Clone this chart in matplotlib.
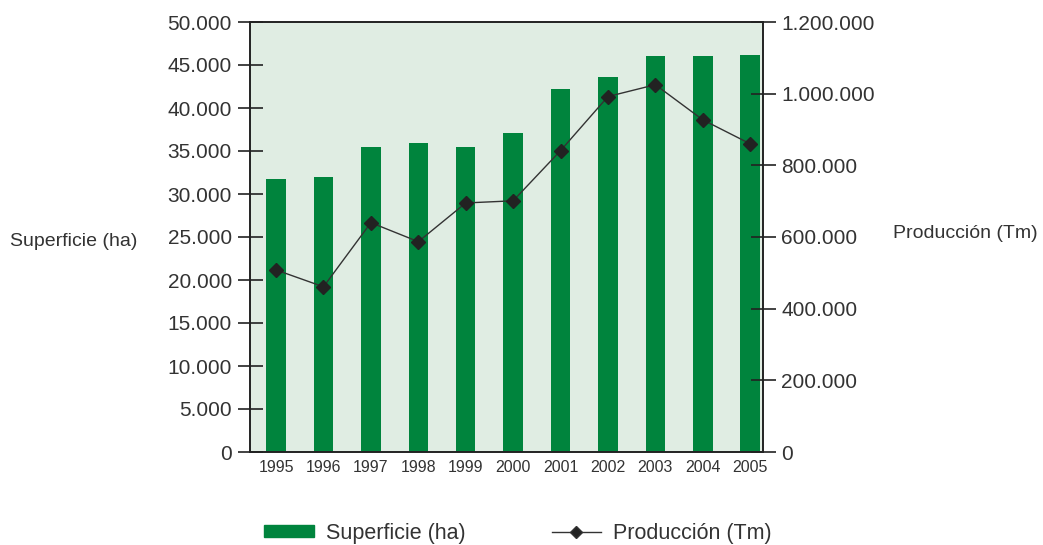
import matplotlib.pyplot as plt
from matplotlib.ticker import FuncFormatter
from matplotlib.patches import Patch
from matplotlib.lines import Line2D

years = ['1995', '1996', '1997', '1998', '1999', '2000', '2001', '2002', '2003', '2004', '2005']
superficie = [31800, 32000, 35500, 35900, 35500, 37100, 42200, 43600, 46000, 46000, 46200]
produccion = [508000, 461000, 640000, 587000, 695000, 701000, 841000, 992000, 1025000, 927000, 860000]

plt.rcParams['font.family'] = ['Liberation Sans', 'DejaVu Sans']


def miles(v, pos):
    # separador de miles con punto
    return f'{int(v):,}'.replace(',', '.')


fig = plt.figure(figsize=(10.43, 5.45), dpi=100)
ax = fig.add_axes([250 / 1043, 1 - 452 / 545, 513 / 1043, 430 / 545])
ax.set_facecolor('#e0ede3')

x = list(range(len(years)))
ax.bar(x, superficie, width=0.41, color='#00843d', zorder=2)
ax.set_xlim(-0.55, 10.27)
ax.set_ylim(0, 50000)
ax.set_yticks(range(0, 50001, 5000))
ax.yaxis.set_major_formatter(FuncFormatter(miles))
ax.set_xticks(x)
ax.set_xticklabels(years, fontsize=11.5, color='#333333')
ax.tick_params(axis='x', length=0, pad=6)
ax.tick_params(axis='y', direction='inout', length=18, width=1.2, labelsize=15,
               colors='#222222', pad=4)
for lab in ax.get_yticklabels():
    lab.set_color('#333333')

ax2 = ax.twinx()
ax2.plot(x, produccion, color='#333333', lw=1, marker='D', markersize=7,
         markerfacecolor='#222222', markeredgecolor='#222222', zorder=3)
ax2.set_ylim(0, 1200000)
ax2.set_yticks(range(0, 1200001, 200000))
ax2.yaxis.set_major_formatter(FuncFormatter(miles))
ax2.tick_params(axis='y', direction='inout', length=18, width=1.2, labelsize=15,
                colors='#222222', pad=4)
for lab in ax2.get_yticklabels():
    lab.set_color('#333333')

for a in (ax, ax2):
    for s in a.spines.values():
        s.set_color('#222222')
        s.set_linewidth(1.2)

fig.text(10 / 1043, 1 - 241 / 545, 'Superficie (ha)', fontsize=14, color='#333333', va='center')
fig.text(893 / 1043, 1 - 233 / 545, 'Producción (Tm)', fontsize=14, color='#333333', va='center')

handles = [Patch(color='#00843d', label='Superficie (ha)'),
           Line2D([], [], color='#333333', lw=1, marker='D', markersize=6,
                  markerfacecolor='#222222', label='Producción (Tm)')]
fig.legend(handles=handles, loc='center', bbox_to_anchor=(518 / 1043, 1 - 533 / 545),
           ncol=2, frameon=False, fontsize=15.5, columnspacing=4.0, handlelength=2.3,
           handleheight=0.45, handletextpad=0.55, labelcolor='#333333',
           borderpad=0, borderaxespad=0)

fig.savefig('out.png', dpi=100)
